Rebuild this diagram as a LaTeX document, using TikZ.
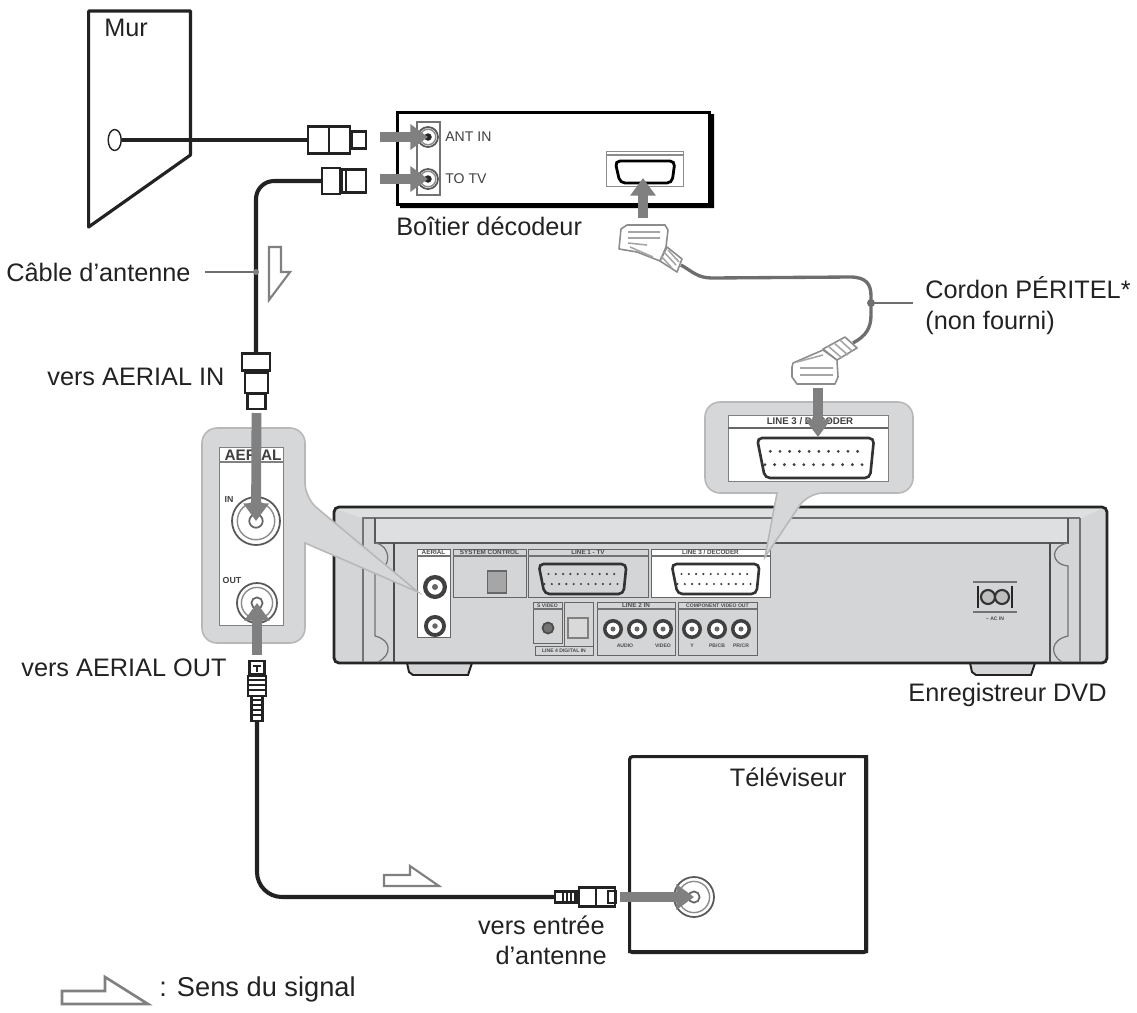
\documentclass[tikz,border=0pt]{standalone}
\usepackage{fontspec}
\setmainfont{Liberation Sans}
\usetikzlibrary{arrows.meta,shapes.geometric}
\definecolor{sigGray}{HTML}{808080}
\definecolor{bodyGray}{HTML}{D3D5D6}
\definecolor{bandGray}{HTML}{DEDFE0}
\definecolor{calloutGray}{HTML}{D6D7D8}
\definecolor{lineGray}{HTML}{6E6E6E}
\definecolor{inkDark}{HTML}{222222}
\tikzset{
  box/.style 2 args={minimum width={#1*0.02cm},minimum height={#2*0.02cm},inner sep=0pt},
  lbl/.style={font=\fontsize{14.4}{17}\selectfont,text=inkDark,inner sep=0pt},
  tiny/.style={font=\fontsize{3.6}{5}\selectfont\bfseries,text=black!70,inner sep=0pt},
  tinier/.style={font=\fontsize{2.9}{4}\selectfont\bfseries,text=black!70,inner sep=0pt},
  small/.style={font=\fontsize{8}{10}\selectfont,text=black!75,inner sep=0pt},
}
% coax socket, the thick kind on the recorder panels
\newcommand{\coaxfat}[4]{
  \node[circle,draw=black!75,fill=white,line width={#4*0.007cm},box={#4*1.65}{#4*1.65}] (#1) at (#2,#3) {};
  \fill[black!60] (#1) circle ({#4*0.25});
}
% coax socket, thin rings
\newcommand{\coaxthin}[4]{
  \node[circle,draw=black!65,fill=white,line width=1pt,box={#4*2}{#4*2}] (#1) at (#2,#3) {};
  \draw[black!45,line width=0.8pt] (#1) circle ({#4*0.78});
  \draw[black!60,line width=1pt] (#1) circle ({#4*0.28});
}
% sub-d socket with its two rows of pins
\newcommand{\subd}[4]{
  \begin{scope}[shift={(#1,#2)},scale=#3]
    \draw[black!80,line width=1.5pt,fill=#4,rounded corners=0.1cm] (-44,-15) -- (44,-15) -- (41,15) -- (-38,15) -- cycle;
    \foreach \i in {0,...,9} \fill[black!75] (-34+\i*7.3,-5) circle (1.2);
    \foreach \i in {0,...,10} \fill[black!75] (-38+\i*7.3,5) circle (1.2);
  \end{scope}
}
\begin{document}
\begin{tikzpicture}[x=0.02cm,y=-0.02cm]
\tikzstyle{wall}=[draw=inkDark,line width=1.8pt,line join=round]
\tikzstyle{cable}=[draw=inkDark,line width=2.3pt]
\tikzstyle{scartcable}=[draw=lineGray,line width=1.9pt]
\tikzstyle{leader}=[draw=lineGray,line width=1.3pt]
\tikzstyle{plug}=[draw=inkDark,fill=white,line width=1.2pt]
\tikzstyle{scartplug}=[draw=black!45,fill=white,line width=0.9pt,line join=round]
\tikzstyle{scartrib}=[draw=black!35,line width=0.9pt]
\tikzstyle{sig}=[draw=sigGray,line width=5.6pt,-{Triangle[length=10pt,width=14pt,fill=sigGray]}]
\tikzstyle{hollow}=[draw=black!50,fill=white,line width=1.2pt,line join=miter]
\tikzstyle{panel}=[draw=black!60,fill=bodyGray,line width=0.8pt]
\tikzstyle{callout}=[draw=black!28,fill=calloutGray,line width=0.9pt]
\useasboundingbox (0,0) rectangle (1137,1012);

% wall
\draw[wall] (88.6,11) -- (190.5,11) -- (190.5,155) -- (88.6,227) -- cycle;
\node[lbl,anchor=west] (mur) at (104,28) {Mur};
\node[ellipse,draw=inkDark,fill=white,line width=0.8pt,box={13}{21}] (hole) at (114.7,140) {};

% decoder box
\fill[black] (400,202) -- (708,202) -- (708,114) -- (714,114) -- (714,208) -- (400,208) -- cycle;
\node[draw=black,line width=1.5pt,fill=white,box={312}{92},anchor=north west] (decoder) at (396,111) {};
\node[draw=black!55,line width=0.9pt,box={23}{73}] (plate) at (428.5,158.5) {};
\coaxthin{portAnt}{428}{137}{10}
\coaxthin{portTv}{428}{179}{10}
\fill[black!85] (portAnt) circle (3.5);
\fill[black!85] (portTv) circle (3.5);
\node[small,anchor=west] (antIn) at (445,137) {ANT IN};
\node[small,anchor=west] (toTv) at (445,179) {TO TV};
\node[lbl,anchor=west] (decoderLbl) at (396,226) {Boîtier décodeur};
\node[draw=black!45,fill=white,line width=0.8pt,box={77}{35},anchor=north west] (scartBox) at (606,151) {};
\draw[black!45,line width=0.8pt] (606,155) -- (683,155);
\draw[black,line width=1.6pt,rounded corners=0.1cm] (615,161) -- (675,161) -- (672,183) -- (620,183) -- cycle;

% coax from the wall, and plug
\node[plug,box={42}{27}] (plugAnt) at (329,140) {};
\draw[line width=1.4pt,inkDark] (plugAnt.north) -- (plugAnt.south);
\node[plug,box={14}{17},anchor=west] (plugAntTip) at (plugAnt.east) {};
\draw[cable] (hole.east) -- (plugAnt.west);
\coordinate (sigAntStart) at (380,137);
\draw[sig] (sigAntStart) -- (portAnt.center);

% coax going down to the recorder
\node[plug,box={18}{26}] (plugBack) at (331,181) {};
\node[plug,box={24}{23},anchor=west] (plugBackTip) at (plugBack.east) {};
\draw[line width=1.4pt,inkDark] (346,170) -- (346,192);
\coordinate (sigTvStart) at (380,179);
\draw[sig] (sigTvStart) -- (portTv.center);

% plug over the recorder
\node[plug,box={28}{17}] (plugIn) at (256,362) {};
\node[plug,box={23}{20},anchor=north] (plugInBody) at (256.5,372) {};
\node[plug,box={18}{15},anchor=north] (plugInTip) at (256.5,393) {};
\draw[cable,rounded corners=0.36cm] (plugBack.west) -| (plugIn.north);

% labels of the first cable
\node[lbl,anchor=west] (cableLbl) at (6,272) {Câble d'antenne};
\coordinate (cableJoint) at (256,272);
\draw[leader] (205,272) -- (cableJoint);
\fill[sigGray] (cableJoint) circle (3);
\draw[hollow] (269,247) -- (281,247) -- (281,272) -- (290,272) -- (269,300) -- cycle;
\node[lbl,anchor=west] (toInLbl) at (47,377) {vers AERIAL IN};
\node[lbl,anchor=west] (toOutLbl) at (21,668) {vers AERIAL OUT};

% recorder
\draw[draw=inkDark,line width=1.1pt,fill=bodyGray] (407,663) -- (409,672) -- (413,675) -- (468,675) -- (472,663) -- cycle;
\draw[draw=inkDark,line width=1.1pt,fill=bodyGray] (970,663) -- (972,672) -- (976,675) -- (1031,675) -- (1035,663) -- cycle;
\draw[draw=black!85,line width=1.6pt,fill=bodyGray,rounded corners=0.1cm] (334,507) rectangle (1107,663);
\fill[bandGray] (337,509) -- (1100,509) -- (1082,518) -- (362,518) -- cycle;
\fill[bandGray] (375,518) rectangle (1068,543);
\draw[black!55,line width=0.7pt] (362,518) -- (1080,518);
\draw[black!65,line width=0.8pt] (375,518) -- (375,543) -- (1068,543) -- (1068,518);
\draw[black!70,line width=0.8pt] (394,543) -- (394,662);
\draw[black!70,line width=0.9pt] (1050,543) -- (1050,662);
\draw[black!55,line width=0.7pt] (363,518) -- (363,662);
\draw[black!55,line width=0.7pt] (1080,518) -- (1080,662);
\draw[black!55,line width=0.7pt] (375,543) .. controls (392,545) and (392,570) .. (375,572) -- (375,636) .. controls (392,640) and (392,655) .. (378,662);
\draw[black!55,line width=0.7pt] (1068,543) .. controls (1050,546) and (1050,564) .. (1068,566) -- (1068,636) .. controls (1050,640) and (1050,655) .. (1062,662);
\node[lbl,anchor=east] (recorderLbl) at (1107,695) {Enregistreur DVD};

% recorder panels
\node[panel,fill=white,box={33}{88},anchor=north west] (panelAerial) at (417,549) {};
\node[tiny,anchor=center] at (433.5,552.5) {AERIAL};
\draw[black!55,line width=0.6pt] (417,556) -- (450,556);
\coaxfat{smallIn}{435}{587}{12}
\coaxfat{smallOut}{435}{626}{11}
\node[panel,box={73}{48},anchor=north west] (panelSys) at (453,549) {};
\node[tiny,anchor=center] at (489.5,552.5) {SYSTEM CONTROL};
\draw[black!55,line width=0.6pt] (453,556) -- (526,556);
\node[draw=black!60,fill=black!35,line width=0.8pt,box={19}{22}] (sysIcon) at (497,582) {};
\node[panel,box={120}{48},anchor=north west] (panelLineOne) at (528,549) {};
\node[tiny,anchor=center] at (588,552.5) {LINE 1 - TV};
\draw[black!55,line width=0.6pt] (528,556) -- (648,556);
\subd{582.5}{579}{1}{bodyGray}
\node[panel,fill=white,box={119}{48},anchor=north west] (panelLineThree) at (651,549) {};
\node[tiny,anchor=center] at (710.5,552.5) {LINE 3 / DECODER};
\draw[black!55,line width=0.6pt] (651,556) -- (770,556);
\subd{715.5}{579}{1}{white}
\node[panel,box={29}{41},anchor=north west] (panelSvid) at (533,602) {};
\node[tinier,anchor=center] at (547.5,605.5) {S VIDEO};
\draw[black!55,line width=0.6pt] (533,609) -- (562,609);
\node[circle,draw=black!70,fill=black!55,line width=1pt,box={11}{11}] (svid) at (548,628) {};
\node[panel,box={29}{45},anchor=north west] (panelOpt) at (564,602) {};
\node[draw=black!50,fill=black!15,line width=0.7pt,box={20}{20}] (optical) at (578,628) {};
\node[panel,box={58}{9},anchor=north west] (panelDig) at (535,646) {};
\node[tinier,anchor=center] at (564,650.5) {LINE 4 DIGITAL IN};
\node[panel,box={78}{53},anchor=north west] (panelLineTwo) at (597,602) {};
\node[tiny,anchor=center] at (636,605.5) {LINE 2 IN};
\draw[black!55,line width=0.6pt] (597,609) -- (675,609);
\node[panel,box={79}{53},anchor=north west] (panelComp) at (678,602) {};
\node[tinier,anchor=center] at (717.5,605.5) {COMPONENT VIDEO OUT};
\draw[black!55,line width=0.6pt] (678,609) -- (757,609);
\coaxfat{lineTwoA}{613}{629}{10}
\coaxfat{lineTwoB}{637}{629}{10}
\coaxfat{lineTwoC}{663}{629}{10}
\coaxfat{compY}{692}{629}{10}
\coaxfat{compB}{717}{629}{10}
\coaxfat{compR}{741}{629}{10}
\node[tinier,anchor=center] at (625,646) {AUDIO};
\node[tinier,anchor=center] at (663,646) {VIDEO};
\node[tinier,anchor=center] at (692,646) {Y};
\node[tinier,anchor=center] at (717,646) {PB/CB};
\node[tinier,anchor=center] at (741,646) {PR/CR};

% mains inlet
\draw[black!55,line width=0.7pt] (973,582) -- (1017,582);
\draw[black!55,line width=0.7pt] (973,612) -- (1017,612);
\draw[black!85,line width=1.4pt] (978,586) -- (978,608);
\draw[black!85,line width=1.4pt] (1012,586) -- (1012,608);
\node[circle,draw=black!80,fill=black!25,line width=1.2pt,box={14}{14}] (acLeft) at (988,597) {};
\node[circle,draw=black!80,fill=black!25,line width=1.2pt,box={14}{14}] (acRight) at (1002,597) {};
\node[tinier,anchor=center] at (995,619) {\textasciitilde{} AC IN};

% callout for the aerial sockets
\draw[callout] (202,535) [rounded corners=0.3cm] -- (202,428) -- (305,428) -- (305,498) [sharp corners] -- (418,592) -- (305,543) [rounded corners=0.3cm] -- (305,643) -- (202,643) -- cycle;
\node[draw=black!50,fill=white,line width=0.7pt,box={64}{178},anchor=north west] (aerialCard) at (219,447) {};
\draw[black!50,line width=0.8pt] (219,462) -- (283,462);
\node[font=\fontsize{8.7}{10}\selectfont\bfseries,text=black!75,inner sep=0pt] (aerialLbl) at (253,455) {AERIAL};
\node[font=\fontsize{5}{6}\selectfont\bfseries,text=black!75,inner sep=0pt] (inLbl) at (229,499) {IN};
\node[font=\fontsize{5}{6}\selectfont\bfseries,text=black!75,inner sep=0pt] (outLbl) at (232,580) {OUT};
\coaxthin{bigIn}{256}{521}{24}
\coaxthin{bigOut}{257}{603}{20}
\coordinate (sigInStart) at (256.5,413);
\draw[sig] (sigInStart) -- (bigIn.center);

% plug under the recorder
\node[plug,box={15}{13},anchor=south] (plugOutTop) at (257,675) {};
\draw[inkDark,line width=0.8pt] (253,666) -- (261,666) (257,666) -- (257,672);
\node[plug,box={18}{20},anchor=north] (plugOutBody) at (257,675) {};
\foreach \yy in {680,685,690} \draw[inkDark,line width=0.7pt] (248,\yy) -- (266,\yy);
\node[plug,box={11}{25},anchor=north] (plugOutRib) at (257,695) {};
\foreach \yy in {700,705,710,715} \draw[inkDark,line width=0.7pt] (252,\yy) -- (263,\yy);
\coordinate (sigOutStart) at (257,655);
\draw[sig] (sigOutStart) -- (bigOut.center);

% television
\fill[inkDark] (628,950) -- (864,950) -- (864,755) -- (868,755) -- (868,953) -- (628,953) -- cycle;
\node[draw=inkDark,line width=1.8pt,rounded corners=0.06cm,box={237}{196},anchor=north west] (tv) at (628,755) {};
\node[lbl,anchor=east] (tvLbl) at (847,777) {Téléviseur};
\coaxthin{tvIn}{694}{897}{20}
\node[plug,box={36}{19},anchor=east] (plugTvBody) at (616,897) {};
\draw[inkDark,line width=1pt] (596,888) -- (596,906);
\draw[inkDark,line width=1pt] (608,891) rectangle (616,903);
\node[plug,box={22}{11},anchor=east] (plugTvRib) at (plugTvBody.west) {};
\foreach \xx in {563,567,571,575} \draw[inkDark,line width=0.7pt] (\xx,892) -- (\xx,903);
\coordinate (sigTvIn) at (620,897);
\draw[sig] (sigTvIn) -- (tvIn.center);
\draw[cable,rounded corners=0.5cm] (plugOutRib.south) |- (plugTvRib.west);
\draw[hollow] (384,875) -- (410,875) -- (410,866) -- (439,886) -- (384,886) -- cycle;
\node[lbl,anchor=east] (toTvLbl) at (605,925) {vers entrée};
\node[lbl,anchor=east] (toTvLblB) at (607,955) {d’antenne};

% legend
\draw[hollow,line width=1.5pt] (62,991) -- (105,991) -- (105,977) -- (148,1004) -- (62,1004) -- cycle;
\node[lbl,font=\fontsize{15.5}{18}\selectfont,anchor=west] (legendLbl) at (159,989) {: Sens du signal};

% callout for the scart socket
\draw[callout] (705,450) [rounded corners=0.3cm] -- (705,402) -- (913,402) -- (913,493) -- (808,493) [sharp corners] -- (765,557) -- (777,493) [rounded corners=0.3cm] -- (705,493) -- cycle;
\node[draw=black!50,fill=white,line width=0.7pt,box={160}{66},anchor=north west] (scartCard) at (728,415) {};
\draw[black!60,line width=0.9pt] (728,428) -- (888,428);
\node[font=\fontsize{5.5}{6}\selectfont\bfseries,text=black!75,inner sep=0pt] (scartCardLbl) at (810,421) {LINE 3 / DECODER};
\subd{815.5}{458}{1.33}{white}

% scart cord
\coordinate (scartTop) at (681,265);
\coordinate (scartBottom) at (853,343);
\coordinate (scartJoint) at (871,303);
\draw[scartcable] (scartTop) .. controls (693,272) and (698,278) .. (712,278) -- (850,277) .. controls (866,277) and (871,284) .. (871,296) -- (871,315) .. controls (871,328) and (866,336) .. (scartBottom);
\draw[leader] (scartJoint) -- (913,303);
\fill[lineGray] (scartJoint) circle (4);
\node[lbl,anchor=west] (cordLbl) at (925,288) {Cordon PÉRITEL*};
\node[lbl,anchor=west] (cordLblB) at (925,323) {(non fourni)};

% upper scart plug
\draw[scartplug] (621,229) -- (627,225) -- (665,225) -- (668,230) -- (666,247) -- (660,261) -- (637,252) -- (619,249) -- cycle;
\draw[scartplug] (667,247) -- (682,259) -- (677,272) -- (660,261) -- cycle;
\draw[scartrib] (628,232) -- (660,232) (628,238) -- (660,238) (628,243) -- (647,245) (630,247) -- (653,257);
\draw[scartrib] (664,252) -- (676,265) (668,250) -- (679,262) (661,256) -- (672,268);
\coordinate (sigTopStart) at (643,218);
\coordinate (sigTopEnd) at (643,178);
\draw[sig] (sigTopStart) -- (sigTopEnd);

% lower scart plug
\draw[scartplug] (792,367) -- (793,363) -- (823,350) -- (837,360) -- (838,377) -- (835,384) -- (797,384) -- (792,377) -- cycle;
\draw[scartplug] (823,349) -- (845,337) -- (857,348) -- (837,360) -- cycle;
\draw[scartrib] (800,368) -- (833,368) (800,375) -- (833,375) (797,362) -- (823,355);
\draw[scartrib] (828,346) -- (842,358) (834,343) -- (848,355) (840,340) -- (852,351);
\coordinate (sigLowStart) at (818,388);
\coordinate (sigLowEnd) at (818,437);
\draw[sig] (sigLowStart) -- (sigLowEnd);

\end{tikzpicture}
\end{document}
